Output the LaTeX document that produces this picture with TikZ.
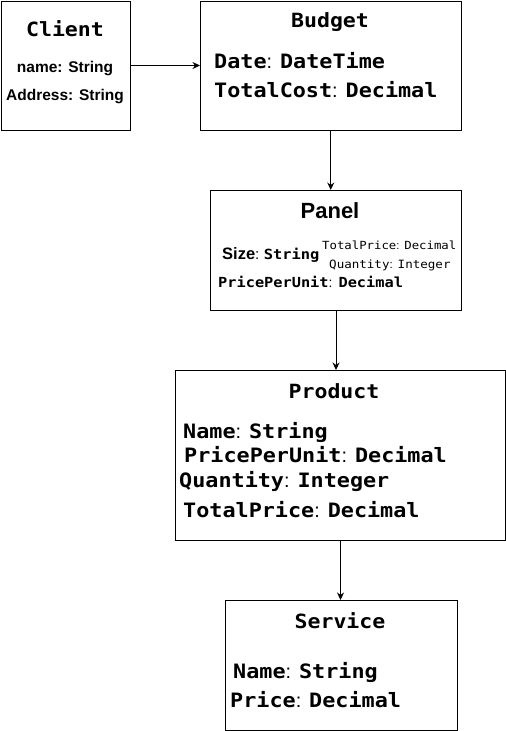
\documentclass[tikz,border=0pt]{standalone}
\usepackage{fontspec}
\setsansfont{Liberation Sans}
\newfontfamily\monofam[FakeStretch=1.1]{DejaVu Sans Mono}
\usetikzlibrary{arrows.meta}
\newcommand\fsz[1]{\fontsize{#1}{#1}\selectfont}
\newcommand\fld[2]{{\monofam\bfseries #1}{\sffamily :} {\monofam\bfseries #2}}
\newcommand\fldr[2]{{\monofam #1}{\sffamily :} {\monofam #2}}
\tikzset{
  box/.style={draw, line width=1pt, inner sep=0pt, anchor=north west},
  txt/.style={inner sep=0pt, anchor=base west},
  ttl/.style={inner sep=0pt, anchor=base},
  conn/.style={line width=1pt, -{Stealth[length=7.5pt,width=7pt]}}
}
\begin{document}
\begin{tikzpicture}[x=1pt,y=-1pt]
\useasboundingbox (0,0) rectangle (506,731);
% boxes
\node[box, minimum width=129.5pt, minimum height=129pt] (client) at (0.5,0.5) {};
\node[box, minimum width=260.5pt, minimum height=129pt] (budget) at (200,0.5) {};
\node[box, minimum width=251pt, minimum height=120pt] (panel) at (210,190) {};
\node[box, minimum width=330pt, minimum height=170pt] (product) at (175,370) {};
\node[box, minimum width=232pt, minimum height=130pt] (service) at (225,600) {};
% client
\node[ttl, font=\monofam\bfseries\fsz{19.6}] (ct) at (65,36) {Client};
\node[ttl, font=\sffamily\bfseries\fsz{15.5}] (c1) at (65,72) {name: String};
\node[ttl, font=\sffamily\bfseries\fsz{15.5}] (c2) at (65,100) {Address: String};
% budget
\node[ttl, font=\monofam\bfseries\fsz{19.6}] (bt) at (330,27) {Budget};
\node[txt, font=\fsz{19.8}] (b1) at (214,68) {\fld{Date}{DateTime}};
\node[txt, font=\fsz{19.8}] (b2) at (214,97) {\fld{TotalCost}{Decimal}};
% panel
\node[ttl, font=\sffamily\bfseries\fsz{22}] (pt) at (330,218) {Panel};
\node[txt] (p1) at (222,259) {{\sffamily\bfseries\fsz{16.5}Size}{\sffamily\fsz{15}:} {\monofam\bfseries\fsz{14}String}};
\node[txt, font=\fsz{11.2}] (p2) at (322,249) {\fldr{TotalPrice}{Decimal}};
\node[txt, font=\fsz{11.4}] (p3) at (329,268) {\fldr{Quantity}{Integer}};
\node[txt, font=\fsz{13.9}] (p4) at (218,287) {\fld{PricePerUnit}{Decimal}};
% product
\node[ttl, font=\monofam\bfseries\fsz{19.6}] (rt) at (334,398) {Product};
\node[txt, font=\fsz{19.8}] (r1) at (183,438) {\fld{Name}{String}};
\node[txt, font=\fsz{19.8}] (r2) at (184,462) {\fld{PricePerUnit}{Decimal}};
\node[txt, font=\fsz{19.8}] (r3) at (179,487) {\fld{Quantity}{Integer}};
\node[txt, font=\fsz{19.8}] (r4) at (183,517) {\fld{TotalPrice}{Decimal}};
% service
\node[ttl, font=\monofam\bfseries\fsz{19.6}] (st) at (340,628) {Service};
\node[txt, font=\fsz{19.8}] (s1) at (233,678) {\fld{Name}{String}};
\node[txt, font=\fsz{19.8}] (s2) at (230,707) {\fld{Price}{Decimal}};
% connectors
\draw[conn] (client.east) -- (client.east -| budget.west);
\draw[conn] (budget.south) -- (budget.south |- panel.north);
\draw[conn] (panel.south) -- (panel.south |- product.north);
\draw[conn] (product.south) -- (product.south |- service.north);
\end{tikzpicture}
\end{document}
